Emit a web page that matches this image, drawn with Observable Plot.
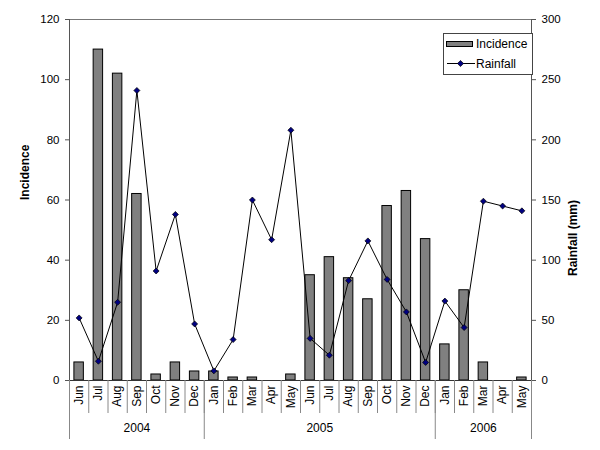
<!DOCTYPE html>
<html>
<head>
<meta charset="utf-8">
<script src="https://cdn.jsdelivr.net/npm/d3@7"></script>
<script src="https://cdn.jsdelivr.net/npm/@observablehq/plot@0.6"></script>
<style>
  html, body { margin: 0; padding: 0; background: #fff; }
  #wrap { position: relative; width: 600px; height: 450px; }
  #legend { position: absolute; left: 0; top: 0; pointer-events: none; }
</style>
</head>
<body>
<div id="wrap"></div>
<script>
const months = ["Jun","Jul","Aug","Sep","Oct","Nov","Dec","Jan","Feb","Mar","Apr","May",
                "Jun","Jul","Aug","Sep","Oct","Nov","Dec","Jan","Feb","Mar","Apr","May"];
const years = ["2004", "2005", "2006"];
const incidence = [6,110,102,62,2,6,3,3,1,1,0,2,35,41,34,27,58,63,47,12,30,6,0,1];
const rainfall = [52,16,65,241,91,138,47,8,34,150,117,208,35,21,83,116,84,57,15,66,44,149,145,141];
const incTicks = [0,20,40,60,80,100,120];
const rainTicks = [0,50,100,150,200,250,300];
const seriesNames = ["Incidence", "Rainfall"];
const yLabels = ["Incidence", "Rainfall (mm)"];

const ratio = 120 / 300;
const data = months.map((m, i) => ({i, month: m, inc: incidence[i], rain: rainfall[i] * ratio}));
// year boundaries: start, each January, end
const bounds = [0, ...months.map((m, i) => m === "Jan" ? i : -1).filter(i => i > 0), months.length];
const yearData = years.map((y, k) => ({year: y, x: (bounds[k] + bounds[k + 1]) / 2}));

const font = "'Liberation Sans', Arial, sans-serif";
const plot = Plot.plot({
  width: 600,
  height: 450,
  marginLeft: 69,
  marginRight: 69,
  marginTop: 19,
  marginBottom: 70,
  style: {fontFamily: font, fontSize: "11.5px", background: "white", color: "black", overflow: "visible"},
  x: {type: "linear", domain: [0, months.length], axis: null},
  y: {domain: [0, 120], axis: null},
  marks: [
    Plot.frame({stroke: "#777"}),
    Plot.rectY(data, {x1: "i", x2: d => d.i + 1, y: "inc", insetLeft: 4.9, insetRight: 4.9, fill: "#808080", stroke: "black", strokeWidth: 1}),
    Plot.line(data, {x: d => d.i + 0.5, y: "rain", stroke: "black", strokeWidth: 1}),
    Plot.dot(data, {x: d => d.i + 0.5, y: "rain", symbol: "diamond2", r: 2.7, fill: "#000080", stroke: "black", strokeWidth: 0.7}),
    Plot.axisY(incTicks, {anchor: "left", tickSize: 4, tickPadding: 6, label: null, stroke: "#555", fontSize: 11.5}),
    Plot.axisY(rainTicks.map(r => r * ratio), {anchor: "right", tickSize: 4, tickPadding: 6, label: null, stroke: "#555", fontSize: 11.5, tickFormat: d => Math.round(d / ratio)}),
    Plot.ruleX([0], {stroke: "#555"}),
    Plot.ruleX([months.length], {stroke: "#555"}),
    Plot.ruleY([0], {stroke: "#333"}),
    // month separators
    Plot.axisX(d3.range(months.length + 1), {anchor: "bottom", tickSize: 33, tickFormat: () => "", stroke: "#888"}),
    // year separators
    Plot.axisX(bounds, {anchor: "bottom", tickSize: 59, tickFormat: () => "", stroke: "#888"}),
    // month labels
    Plot.text(data, {x: d => d.i + 0.5, text: "month", frameAnchor: "bottom", rotate: -90, textAnchor: "end", lineAnchor: "middle", dy: 5, fontSize: 12}),
    // year labels
    Plot.text(yearData, {x: "x", text: "year", frameAnchor: "bottom", dy: 51, fontSize: 12}),
    // y axis titles
    Plot.text([yLabels[0]], {text: d => d, frameAnchor: "left", dx: -44, rotate: -90, fontWeight: "bold", fontSize: 12}),
    Plot.text([yLabels[1]], {text: d => d, frameAnchor: "right", dx: 42, rotate: -90, fontWeight: "bold", fontSize: 12})
  ]
});
const wrap = document.getElementById("wrap");
wrap.appendChild(plot);

// legend overlay
const lg = d3.select(wrap).append("svg").attr("id", "legend").attr("width", 600).attr("height", 450)
  .style("font-family", font).style("font-size", "12px");
lg.append("rect").attr("x", 443.5).attr("y", 33.5).attr("width", 89).attr("height", 41)
  .attr("fill", "white").attr("stroke", "#444");
lg.append("rect").attr("x", 446.5).attr("y", 41.5).attr("width", 26).attr("height", 5)
  .attr("fill", "#808080").attr("stroke", "black");
lg.append("text").attr("x", 476).attr("y", 44).attr("dy", "0.35em").text(seriesNames[0]);
lg.append("line").attr("x1", 447).attr("x2", 475).attr("y1", 63.5).attr("y2", 63.5).attr("stroke", "black");
lg.append("path").attr("d", d3.symbol(d3.symbolDiamond2, 24)()).attr("transform", "translate(460.5,63.5)")
  .attr("fill", "#000080").attr("stroke", "black").attr("stroke-width", 0.7);
lg.append("text").attr("x", 476).attr("y", 64).attr("dy", "0.35em").text(seriesNames[1]);
</script>
</body>
</html>
